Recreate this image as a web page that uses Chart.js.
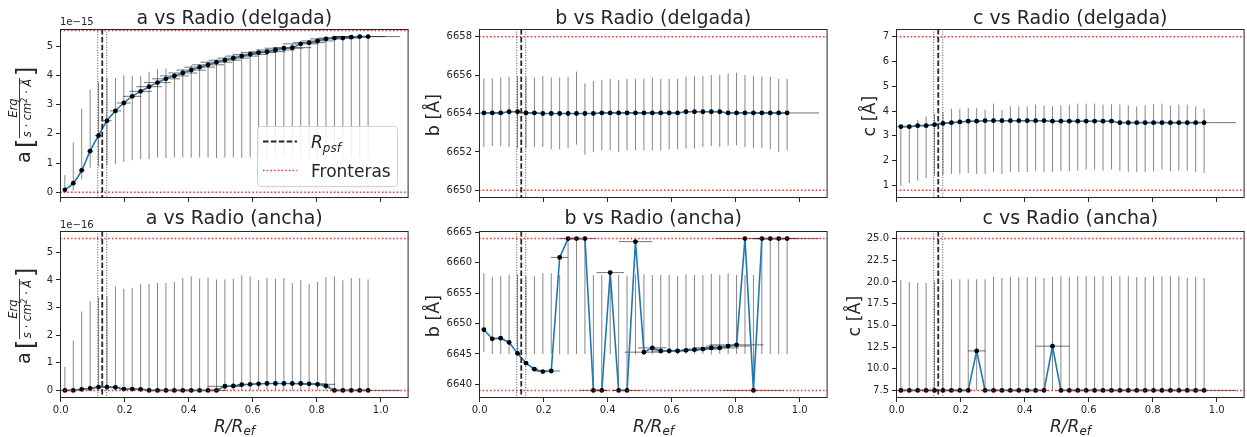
<!DOCTYPE html>
<html><head><meta charset="utf-8">
<script src="https://cdn.jsdelivr.net/npm/chart.js"></script>
<style>
html,body{margin:0;padding:0;background:#fff;overflow:hidden;width:1247px;height:437px;}
body{position:relative;font-family:'DejaVu Sans',sans-serif;}
canvas{position:absolute;}
#ov{position:absolute;left:0;top:0;pointer-events:none;}
#ov text{font-family:'DejaVu Sans',sans-serif;fill:#262626;}
</style></head><body>
<script>
// ---------- DATA ----------
const R = [0.0132,0.0395,0.0658,0.0921,0.1184,0.1447,0.1711,0.1974,0.2237,0.2500,0.2763,0.3026,0.3289,0.3553,0.3816,0.4079,0.4342,0.4605,0.4868,0.5132,0.5395,0.5658,0.5921,0.6184,0.6447,0.6711,0.6974,0.7237,0.7500,0.7763,0.8026,0.8289,0.8553,0.8816,0.9079,0.9342,0.9605];
const X_TICKS = [0,0.2,0.4,0.6,0.8,1.0];
const R_PSF = 0.13, R_PSF_LO = 0.116, R_PSF_HI = 0.144;

// a (delgada), units of 1e-15
const aDel   = [0.08,0.31,0.75,1.41,1.94,2.45,2.79,3.06,3.29,3.46,3.62,3.76,3.89,3.99,4.09,4.19,4.29,4.37,4.46,4.53,4.60,4.67,4.73,4.79,4.82,4.88,4.94,4.96,5.09,5.13,5.19,5.26,5.29,5.29,5.32,5.34,5.34];
const aDelHi = [0.59,1.71,2.86,3.52,3.78,3.92,3.92,4.01,3.99,3.98,4.13,4.22,4.24,4.09,4.23,4.36,4.39,4.50,4.53,4.65,4.71,4.79,4.82,4.88,4.91,4.97,5.03,5.09,5.17,5.20,5.26,5.28,5.32,5.34,5.34,5.34,5.34];
const aDelLo = [0.00,0.05,0.45,0.84,0.90,0.93,0.96,1.04,1.10,1.13,1.13,1.19,1.17,1.19,1.19,1.18,1.19,1.19,1.17,1.19,1.19,1.18,1.19,1.19,1.19,1.17,1.19,1.19,1.19,1.18,1.19,1.19,1.19,1.19,1.18,1.19,1.19];
const aDelXerr = [0.004,0.006,0.008,0.010,0.012,0.015,0.018,0.022,0.028,0.035,0.040,0.042,0.044,0.045,0.045,0.046,0.048,0.050,0.050,0.050,0.050,0.052,0.055,0.055,0.058,0.060,0.060,0.060,0.055,0.050,0.050,0.050,0.050,0.050,0.060,0.080,0.100];
const A_DEL_TICKS = [0,1,2,3,4,5];
const A_DEL_BOUNDS = [0,5.55];

// b (delgada)
const bDel   = [6654.03,6654.03,6654.03,6654.09,6654.09,6654.03,6654.03,6654.00,6654.00,6654.00,6654.00,6654.00,6654.00,6654.00,6654.03,6654.03,6654.03,6654.03,6654.03,6654.03,6654.03,6654.03,6654.03,6654.03,6654.09,6654.09,6654.09,6654.09,6654.09,6654.03,6654.03,6654.03,6654.03,6654.03,6654.03,6654.03,6654.03];
const bDelHi = [6655.83,6655.83,6655.87,6655.92,6655.95,6655.92,6655.87,6655.95,6655.87,6655.87,6655.92,6656.18,6655.57,6655.69,6655.75,6655.80,6655.75,6655.80,6655.80,6655.80,6655.87,6655.80,6655.80,6655.80,6655.92,6655.95,6655.95,6656.00,6656.00,6656.09,6656.13,6656.00,6655.95,6655.92,6655.92,6655.80,6655.80];
const bDelLo = [6652.25,6652.31,6652.31,6652.25,6652.17,6652.20,6652.25,6652.25,6652.13,6652.13,6652.20,6652.38,6651.85,6651.99,6652.08,6652.08,6651.99,6652.08,6652.08,6652.08,6652.08,6652.08,6652.13,6652.13,6652.17,6652.17,6652.25,6652.31,6652.25,6652.34,6652.34,6652.25,6652.20,6652.20,6652.13,6651.99,6652.08];
const bDelXerr = [0.012,0.012,0.012,0.012,0.012,0.012,0.012,0.012,0.012,0.012,0.012,0.012,0.012,0.012,0.012,0.012,0.012,0.012,0.012,0.012,0.012,0.012,0.012,0.012,0.012,0.012,0.012,0.012,0.012,0.012,0.012,0.012,0.012,0.012,0.012,0.012,0.100];
const B_DEL_TICKS = [6650,6652,6654,6656,6658];
const B_DEL_BOUNDS = [6650,6658];

// c (delgada)
const cDel   = [3.37,3.37,3.41,3.41,3.45,3.50,3.53,3.56,3.59,3.59,3.61,3.61,3.61,3.61,3.61,3.61,3.61,3.61,3.59,3.59,3.59,3.59,3.59,3.59,3.59,3.59,3.53,3.53,3.53,3.53,3.53,3.53,3.53,3.53,3.53,3.53,3.53];
const cDelHi = [3.40,3.48,3.64,3.78,3.89,3.95,4.09,4.09,4.12,4.12,4.05,4.30,4.05,4.19,4.19,4.19,4.26,4.23,4.19,4.23,4.26,4.30,4.30,4.30,4.26,4.27,4.27,4.23,4.19,4.23,4.27,4.30,4.23,4.26,4.26,4.19,4.09];
const cDelLo = [0.98,1.09,1.19,1.29,1.40,1.43,1.46,1.46,1.50,1.46,1.46,1.54,1.46,1.54,1.54,1.54,1.59,1.54,1.54,1.57,1.57,1.59,1.64,1.64,1.59,1.64,1.57,1.54,1.54,1.54,1.57,1.64,1.57,1.59,1.59,1.54,1.50];
const cDelXerr = [0.012,0.012,0.012,0.012,0.012,0.012,0.012,0.012,0.012,0.012,0.012,0.012,0.012,0.012,0.012,0.012,0.012,0.012,0.012,0.012,0.012,0.012,0.012,0.012,0.012,0.012,0.012,0.012,0.012,0.012,0.012,0.012,0.012,0.012,0.012,0.012,0.100];
const C_DEL_TICKS = [1,2,3,4,5,6,7];
const C_DEL_BOUNDS = [0.8,7.0];

// a (ancha), units of 1e-16
const aAn   = [0,0,0.04,0.07,0.12,0.12,0.11,0.05,0.05,0.04,0,0,0,0,0,0,0,0,0,0.15,0.16,0.21,0.22,0.24,0.25,0.25,0.25,0.25,0.25,0.24,0.22,0.16,0,0,0,0,0];
const aAnHi = [0.85,1.81,2.86,3.24,3.38,3.38,3.77,3.68,3.72,3.86,3.86,3.89,3.89,3.93,4.07,4.13,4.05,4.07,4.02,4.02,4.05,4.17,4.13,3.99,4.07,4.05,4.07,3.89,3.99,3.86,3.93,4.11,4.13,3.99,4.07,4.07,4.02];
const aAnLo = [0,0,0,0,0,0,0,0,0,0,0,0,0,0,0,0,0,0,0,0,0,0,0,0,0,0,0,0,0,0,0,0,0,0,0,0,0];
const aAnXerr = [0.014,0.014,0.014,0.014,0.014,0.014,0.014,0.014,0.014,0.014,0.014,0.014,0.014,0.014,0.014,0.014,0.014,0.014,0.030,0.055,0.030,0.014,0.014,0.014,0.014,0.014,0.014,0.014,0.014,0.050,0.055,0.014,0.014,0.014,0.014,0.014,0.100];
const A_AN_TICKS = [0,1,2,3,4,5];
const A_AN_BOUNDS = [0,5.5];

// b (ancha)
const bAn   = [6649.0,6647.5,6647.6,6646.9,6645.1,6643.5,6642.5,6642.1,6642.2,6660.9,6664,6664,6664,6639,6639,6658.4,6639,6639,6663.5,6645.3,6646.0,6645.5,6645.5,6645.5,6645.6,6645.7,6645.8,6646.0,6646.0,6646.3,6646.5,6664,6639,6664,6664,6664,6664];
const bAnHi = [6658.3,6657.7,6657.8,6658.0,6658.1,6657.8,6657.8,6658.3,6658.3,6658.0,6664,6664,6664,6658.0,6658.0,6658.4,6658.0,6657.9,6658.1,6658.1,6658.0,6658.0,6658.0,6657.9,6658.1,6658.0,6658.0,6658.2,6658.0,6658.3,6658.0,6658.0,6658.0,6664,6664,6664,6664];
const bAnLo = [6645.3,6645.0,6645.0,6645.0,6645.0,6644.9,6645.0,6645.0,6645.0,6645.0,6645.0,6645.0,6645.0,6639,6639,6645.0,6639,6639,6645.0,6644.9,6645.0,6645.0,6645.0,6644.9,6645.0,6645.0,6645.0,6644.9,6645.0,6645.0,6645.0,6645.0,6639,6645.0,6645.0,6645.0,6645.0];
const bAnXerr = [0.005,0.005,0.005,0.005,0.006,0.008,0.010,0.020,0.028,0.027,0.030,0.020,0.036,0.042,0.020,0.043,0.020,0.045,0.052,0.060,0.045,0.030,0.030,0.035,0.040,0.040,0.050,0.050,0.060,0.070,0.084,0.092,0.095,0.030,0.040,0.060,0.100];
const B_AN_TICKS = [6640,6645,6650,6655,6660,6665];
const B_AN_BOUNDS = [6639,6664];

// c (ancha)
const cAn   = [7.5,7.5,7.5,7.5,7.5,7.5,7.5,7.5,7.5,12.05,7.5,7.5,7.5,7.5,7.5,7.5,7.5,7.5,12.6,7.5,7.5,7.5,7.5,7.5,7.5,7.5,7.5,7.5,7.5,7.5,7.5,7.5,7.5,7.5,7.5,7.5,7.5];
const cAnHi = [20.19,20.00,19.88,19.88,20.08,20.19,20.31,20.31,20.31,20.31,20.31,20.58,20.46,20.58,20.58,20.58,20.58,20.46,20.58,20.65,20.58,20.65,20.65,20.65,20.65,20.65,20.65,20.65,20.58,20.58,20.65,20.65,20.65,20.65,20.46,20.58,20.46];
const cAnLo = [7.5,7.5,7.5,7.5,7.5,7.5,7.5,7.5,7.5,7.5,7.5,7.5,7.5,7.5,7.5,7.5,7.5,7.5,7.5,7.5,7.5,7.5,7.5,7.5,7.5,7.5,7.5,7.5,7.5,7.5,7.5,7.5,7.5,7.5,7.5,7.5,7.5];
const cAnXerr = [0.014,0.014,0.014,0.014,0.014,0.014,0.014,0.014,0.014,0.028,0.014,0.014,0.014,0.014,0.014,0.014,0.014,0.014,0.053,0.014,0.014,0.014,0.014,0.014,0.014,0.014,0.014,0.014,0.014,0.014,0.014,0.014,0.014,0.014,0.014,0.014,0.100];
const C_AN_TICKS = [7.5,10,12.5,15,17.5,20,22.5,25];
const C_AN_BOUNDS = [7.5,25];

// ---------- RENDER ----------
const FONT = "'DejaVu Sans', sans-serif";
const TXT = '#262626';
const BLUE = '#1f77b4';
const TITLE_SIZE = 19;
Chart.defaults.font.family = FONT;

const deco = {
  id: 'deco',
  afterDatasetsDraw(chart, args, o) {
    const {ctx, chartArea: a, scales: {x, y}} = chart;
    ctx.save();
    ctx.beginPath(); ctx.rect(a.left, a.top, a.right - a.left, a.bottom - a.top); ctx.clip();
    ctx.strokeStyle = 'rgba(255,0,0,0.85)'; ctx.lineWidth = 1.5; ctx.setLineDash([1.5, 2.2]);
    o.bounds.forEach(b => { const py = y.getPixelForValue(b); ctx.beginPath(); ctx.moveTo(a.left, py); ctx.lineTo(a.right, py); ctx.stroke(); });
    ctx.strokeStyle = 'rgba(0,0,0,0.7)'; ctx.lineWidth = 1; ctx.setLineDash([1, 1.6]);
    [R_PSF_LO, R_PSF_HI].forEach(v => { const px = x.getPixelForValue(v); ctx.beginPath(); ctx.moveTo(px, a.top); ctx.lineTo(px, a.bottom); ctx.stroke(); });
    ctx.strokeStyle = TXT; ctx.lineWidth = 1.8; ctx.setLineDash([5.5, 2.4]);
    { const px = x.getPixelForValue(R_PSF); ctx.beginPath(); ctx.moveTo(px, a.top); ctx.lineTo(px, a.bottom); ctx.stroke(); }
    ctx.restore();
    ctx.save();
    ctx.strokeStyle = TXT; ctx.lineWidth = 1;
    ctx.strokeRect(a.left + 0.5, a.top + 0.5, a.right - a.left - 1, a.bottom - a.top - 1);
    ctx.restore();
  }
};

function vBars(lo, hi) {
  const pts = [];
  R.forEach((xv, i) => { pts.push({x: xv, y: lo[i]}, {x: xv, y: hi[i]}, {x: xv, y: null}); });
  return pts;
}
function hBars(yv, e) {
  const pts = [];
  R.forEach((xv, i) => { pts.push({x: xv - e[i], y: yv[i]}, {x: xv + e[i], y: yv[i]}, {x: xv + e[i], y: null}); });
  return pts;
}

const PANELS = [
  {L:60,  top:true,  title:'a vs Radio (delgada)', y:aDel, lo:aDelLo, hi:aDelHi, xerr:aDelXerr, ymin:-0.2,   ymax:5.6,    yticks:A_DEL_TICKS, dec:0, bounds:A_DEL_BOUNDS, smooth:true},
  {L:479, top:true,  title:'b vs Radio (delgada)', y:bDel, lo:bDelLo, hi:bDelHi, xerr:bDelXerr, ymin:6649.6, ymax:6658.4, yticks:B_DEL_TICKS, dec:0, bounds:B_DEL_BOUNDS},
  {L:896, top:true,  title:'c vs Radio (delgada)', y:cDel, lo:cDelLo, hi:cDelHi, xerr:cDelXerr, ymin:0.49,   ymax:7.31,   yticks:C_DEL_TICKS, dec:0, bounds:C_DEL_BOUNDS},
  {L:60,  top:false, title:'a vs Radio (ancha)',   y:aAn,  lo:aAnLo,  hi:aAnHi,  xerr:aAnXerr,  ymin:-0.275, ymax:5.775,  yticks:A_AN_TICKS,  dec:0, bounds:A_AN_BOUNDS},
  {L:479, top:false, title:'b vs Radio (ancha)',   y:bAn,  lo:bAnLo,  hi:bAnHi,  xerr:bAnXerr,  ymin:6637.75,ymax:6665.25,yticks:B_AN_TICKS,  dec:0, bounds:B_AN_BOUNDS},
  {L:896, top:false, title:'c vs Radio (ancha)',   y:cAn,  lo:cAnLo,  hi:cAnHi,  xerr:cAnXerr,  ymin:6.625,  ymax:25.875, yticks:C_AN_TICKS,  dec:1, bounds:C_AN_BOUNDS},
];

PANELS.forEach(p => {
  const cx = p.L - 60, cw = 411;
  const cy = p.top ? 0 : 201, ch = p.top ? 210 : 236;
  const T = p.top ? 29 : 231, B = p.top ? 198 : 398;
  const Rr = p.L + 349;
  // title box: line height + top padding fill the space above the plot
  const lh = p.top ? 20 : 23, padTop = (T - cy) - lh;
  const cv = document.createElement('canvas');
  cv.width = cw; cv.height = ch;
  cv.style.left = cx + 'px'; cv.style.top = cy + 'px';
  cv.style.width = cw + 'px'; cv.style.height = ch + 'px';
  document.body.appendChild(cv);
  const tick = {drawOnChartArea:false, drawTicks:true, tickLength:4, color:TXT, lineWidth:1};
  new Chart(cv, {
    type: 'line',
    data: {datasets: [
      {data: p.y.map((v, i) => ({x: R[i], y: v})), borderColor: BLUE, borderWidth: 1.6,
       pointRadius: 2.4, pointHoverRadius: 2.4, pointBackgroundColor: '#000', pointBorderWidth: 0,
       cubicInterpolationMode: p.smooth ? 'monotone' : 'default', tension: 0, fill: false},
      {data: hBars(p.y, p.xerr), borderColor: 'rgba(0,0,0,0.55)', borderWidth: 1, pointRadius: 0, fill: false, clip: 0},
      {data: vBars(p.lo, p.hi), borderColor: 'rgba(0,0,0,0.48)', borderWidth: 1, pointRadius: 0, fill: false, clip: 0},
    ]},
    options: {
      responsive: false, animation: false, devicePixelRatio: 1, events: [],
      layout: {padding: {left: 0, right: cx + cw - Rr, top: 0, bottom: 0}},
      plugins: {
        legend: {display: false}, tooltip: {enabled: false},
        title: {display: true, text: p.title, fullSize: false, color: TXT,
                font: {family: FONT, size: TITLE_SIZE, weight: 'normal', lineHeight: lh / TITLE_SIZE},
                padding: {top: padTop, bottom: 0}},
        deco: {bounds: p.bounds}
      },
      scales: {
        x: {type: 'linear', min: -0.002, max: 1.087,
            afterBuildTicks: s => { s.ticks = X_TICKS.map(v => ({value: v})); },
            afterFit: s => { s.height = cy + ch - B; },
            grid: tick, border: {display: false},
            ticks: {display: !p.top, color: TXT, font: {family: FONT, size: 10}, padding: 2, maxRotation: 0, autoSkip: false,
                    callback: v => Number(v).toFixed(1)}},
        y: {type: 'linear', min: p.ymin, max: p.ymax,
            afterBuildTicks: s => { s.ticks = p.yticks.map(v => ({value: v})); },
            afterFit: s => { s.width = p.L - cx; },
            grid: tick, border: {display: false},
            ticks: {color: TXT, font: {family: FONT, size: 10}, padding: 3, autoSkip: false,
                    callback: v => Number(v).toFixed(p.dec)}}
      }
    },
    plugins: [deco]
  });
});
</script>
<svg id="ov" width="1247" height="437" xmlns="http://www.w3.org/2000/svg">
  <!-- offset texts -->
  <text x="60" y="25" font-size="10">1e−15</text>
  <text x="60" y="228" font-size="10">1e−16</text>

  <!-- x labels -->
  <text x="234.5" y="431.5" font-size="17" font-style="italic" text-anchor="middle">R/R<tspan font-size="12" dy="3.5">ef</tspan></text>
  <text x="653.5" y="431.5" font-size="17" font-style="italic" text-anchor="middle">R/R<tspan font-size="12" dy="3.5">ef</tspan></text>
  <text x="1070.5" y="431.5" font-size="17" font-style="italic" text-anchor="middle">R/R<tspan font-size="12" dy="3.5">ef</tspan></text>

  <!-- y labels b, c -->
  <text transform="translate(439,115) rotate(-90)" font-size="17.5" text-anchor="middle">b [Å]</text>
  <text transform="translate(439,316) rotate(-90)" font-size="17.5" text-anchor="middle">b [Å]</text>
  <text transform="translate(875,116) rotate(-90)" font-size="17.5" text-anchor="middle">c [Å]</text>
  <text transform="translate(860,316) rotate(-90)" font-size="17.5" text-anchor="middle">c [Å]</text>

  <!-- y label a (delgada) -->
  <g transform="translate(30,163) rotate(-90)">
    <text x="0" y="0" font-size="19">a</text>
    <text x="15" y="4" font-size="24">[</text>
    <text x="55" y="-13" font-size="11.5" font-style="italic" text-anchor="middle">Erg</text>
    <line x1="25" x2="85" y1="-10.5" y2="-10.5" stroke="#262626" stroke-width="0.9"/>
    <text x="55" y="1" font-size="11.5" font-style="italic" text-anchor="middle">s · cm<tspan font-size="8" dy="-4.5">2</tspan><tspan dy="4.5"> · Å</tspan></text>
    <text x="87" y="4" font-size="24">]</text>
  </g>
  <!-- y label a (ancha) -->
  <g transform="translate(30,364) rotate(-90)">
    <text x="0" y="0" font-size="19">a</text>
    <text x="15" y="4" font-size="24">[</text>
    <text x="55" y="-13" font-size="11.5" font-style="italic" text-anchor="middle">Erg</text>
    <line x1="25" x2="85" y1="-10.5" y2="-10.5" stroke="#262626" stroke-width="0.9"/>
    <text x="55" y="1" font-size="11.5" font-style="italic" text-anchor="middle">s · cm<tspan font-size="8" dy="-4.5">2</tspan><tspan dy="4.5"> · Å</tspan></text>
    <text x="87" y="4" font-size="24">]</text>
  </g>

  <!-- legend -->
  <rect x="257.5" y="126.5" width="140" height="60" rx="3" ry="3" fill="rgba(255,255,255,0.85)" stroke="#d2d2d2" stroke-width="1"/>
  <line x1="263" x2="297" y1="141.5" y2="141.5" stroke="#262626" stroke-width="1.8" stroke-dasharray="5.5 2.4"/>
  <text x="311" y="148" font-size="17" font-style="italic">R<tspan font-size="12" dy="3.5">psf</tspan></text>
  <line x1="263" x2="297" y1="170.5" y2="170.5" stroke="rgba(255,0,0,0.85)" stroke-width="1.5" stroke-dasharray="1.5 2.2"/>
  <text x="311" y="177" font-size="17">Fronteras</text>
</svg>
</body></html>
